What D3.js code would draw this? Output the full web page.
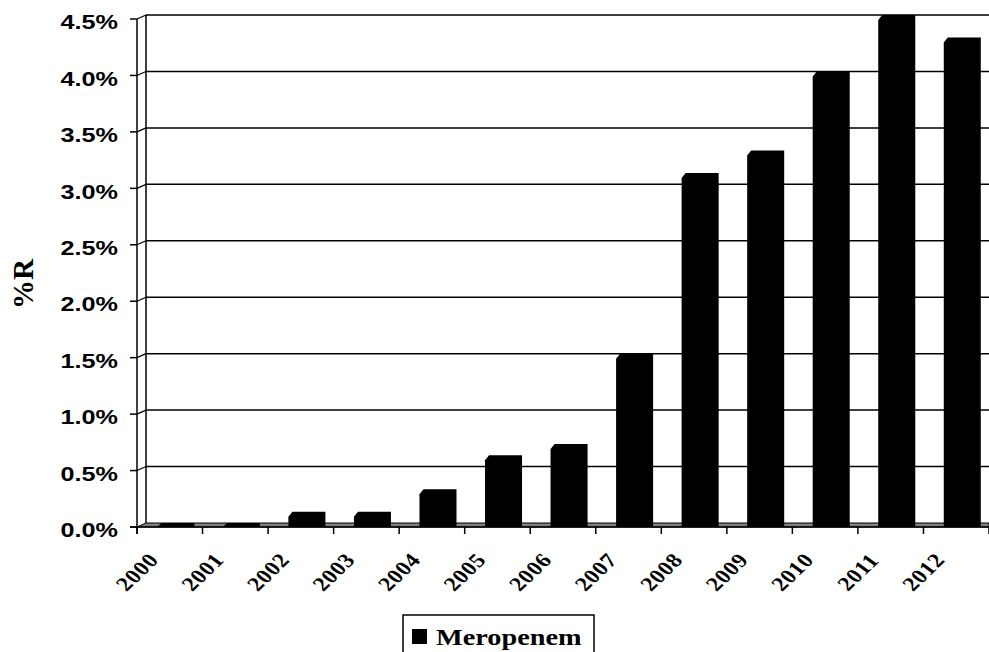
<!DOCTYPE html>
<html>
<head>
<meta charset="utf-8">
<script src="https://cdn.jsdelivr.net/npm/d3@7"></script>
<style>
  html, body { margin: 0; padding: 0; background: #fff; }
  svg { display: block; }
</style>
</head>
<body>
<svg id="chart" width="989" height="652"></svg>
<script>
// Meropenem resistance by year (% resistant isolates)
const years = ['2000','2001','2002','2003','2004','2005','2006','2007','2008','2009','2010','2011','2012'];
const meropenemR = [0, 0, 0.1, 0.1, 0.3, 0.6, 0.7, 1.5, 3.1, 3.3, 4.0, 4.5, 4.3];
const yTicks = [0, 0.5, 1.0, 1.5, 2.0, 2.5, 3.0, 3.5, 4.0, 4.5];
const seriesName = 'Meropenem';
const yTitle = '%R';

const svg = d3.select('#chart');
const W = 989;

// 3-D layout: front plane vs back wall offset
const depthX = 9, depthY = 4;
const frontLeft = 137, right = W;
const backFloor = 523, backTop = 15;

const y = d3.scaleLinear().domain([0, 4.5]).range([backFloor, backTop]);
const yFront = v => y(v) + depthY;
const x = d3.scaleBand().domain(years).range([frontLeft, right]).paddingInner(0).paddingOuter(0);
const bw = x.bandwidth();
const stretch = 1.2;

// back wall edge
svg.append('line')
  .attr('x1', frontLeft + depthX).attr('x2', frontLeft + depthX)
  .attr('y1', y(4.5)).attr('y2', y(0))
  .attr('stroke', '#000').attr('stroke-width', 1.5);

// gridlines on back wall + connectors on side wall
yTicks.filter(v => v > 0).forEach(v => {
  svg.append('line')
    .attr('x1', frontLeft + depthX).attr('x2', right)
    .attr('y1', y(v)).attr('y2', y(v))
    .attr('stroke', '#000').attr('stroke-width', 1.5);
  svg.append('line')
    .attr('x1', frontLeft).attr('x2', frontLeft + depthX)
    .attr('y1', yFront(v)).attr('y2', y(v))
    .attr('stroke', '#000').attr('stroke-width', 1.2);
});

// floor
svg.append('polygon')
  .attr('points', [[frontLeft, yFront(0)], [frontLeft + depthX, y(0)], [right, y(0)], [right, yFront(0)]].map(p => p.join(',')).join(' '))
  .attr('fill', '#808080').attr('stroke', '#000').attr('stroke-width', 1);

// columns
const barOff = bw * 0.31, barW = bw * 0.565, chX = 4, chY = 5;
svg.append('g').selectAll('polygon.bar')
  .data(years.map((yr, i) => ({ yr, v: meropenemR[i] })))
  .join('polygon')
  .attr('class', 'bar')
  .attr('fill', '#000')
  .attr('points', d => {
    const x0 = x(d.yr) + barOff, x1 = x0 + barW;
    const top = y(d.v), bottom = yFront(0);
    const bend = Math.min(top + chY, bottom);
    return [[x0, bottom], [x0, bend], [x0 + chX, top], [x1, top], [x1, bottom]].map(p => p.join(',')).join(' ');
  });

// front vertical axis
svg.append('line')
  .attr('x1', frontLeft).attr('x2', frontLeft)
  .attr('y1', yFront(4.5)).attr('y2', yFront(0) + 7)
  .attr('stroke', '#000').attr('stroke-width', 1.5);

// front horizontal axis
svg.append('line')
  .attr('x1', frontLeft - 7).attr('x2', right)
  .attr('y1', yFront(0)).attr('y2', yFront(0))
  .attr('stroke', '#000').attr('stroke-width', 1.5);

// y ticks and labels
const fmt = d3.format('.1%');
yTicks.forEach(v => {
  svg.append('line')
    .attr('x1', frontLeft - 7).attr('x2', frontLeft)
    .attr('y1', yFront(v)).attr('y2', yFront(v))
    .attr('stroke', '#000').attr('stroke-width', 1.5);
  svg.append('text')
    .attr('transform', `translate(118,${yFront(v) + 3}) scale(${stretch},1)`)
    .attr('text-anchor', 'end')
    .attr('dominant-baseline', 'central')
    .style('font-family', '"Liberation Sans", Arial, sans-serif')
    .style('font-weight', 'bold')
    .style('font-size', '21px')
    .attr('fill', '#000')
    .text(fmt(v / 100));
});

// x ticks at category boundaries
d3.range(years.length + 1).forEach(i => {
  const xx = frontLeft + i * bw;
  svg.append('line')
    .attr('x1', xx).attr('x2', xx)
    .attr('y1', yFront(0)).attr('y2', yFront(0) + 7)
    .attr('stroke', '#000').attr('stroke-width', 1.5);
});

// x labels
years.forEach(yr => {
  svg.append('text')
    .attr('transform', `translate(${x(yr)},${yFront(0) + 45}) scale(${stretch},1) rotate(-49)`)
    .attr('text-anchor', 'middle')
    .attr('dominant-baseline', 'central')
    .style('font-family', '"Liberation Serif", "Times New Roman", serif')
    .style('font-weight', 'bold')
    .style('font-size', '20px')
    .style('letter-spacing', '0.5px')
    .attr('fill', '#000')
    .text(yr);
});

// y title
svg.append('text')
  .attr('transform', `translate(23,284) rotate(-90)`)
  .attr('text-anchor', 'middle')
  .attr('dominant-baseline', 'central')
  .style('font-family', '"Liberation Serif", "Times New Roman", serif')
  .style('font-weight', 'bold')
  .style('font-size', '29px')
  .attr('fill', '#000')
  .text(yTitle);

// legend
const lg = svg.append('g');
lg.append('rect')
  .attr('x', 403).attr('y', 615).attr('width', 191).attr('height', 50)
  .attr('fill', '#fff').attr('stroke', '#000').attr('stroke-width', 1.5);
lg.append('rect')
  .attr('x', 412).attr('y', 629).attr('width', 15).attr('height', 15)
  .attr('fill', '#000');
lg.append('text')
  .attr('transform', `translate(436,645) scale(1.23,1)`)
  .style('font-family', '"Liberation Serif", "Times New Roman", serif')
  .style('font-weight', 'bold')
  .style('font-size', '23px')
  .attr('fill', '#000')
  .text(seriesName);
</script>
</body>
</html>
